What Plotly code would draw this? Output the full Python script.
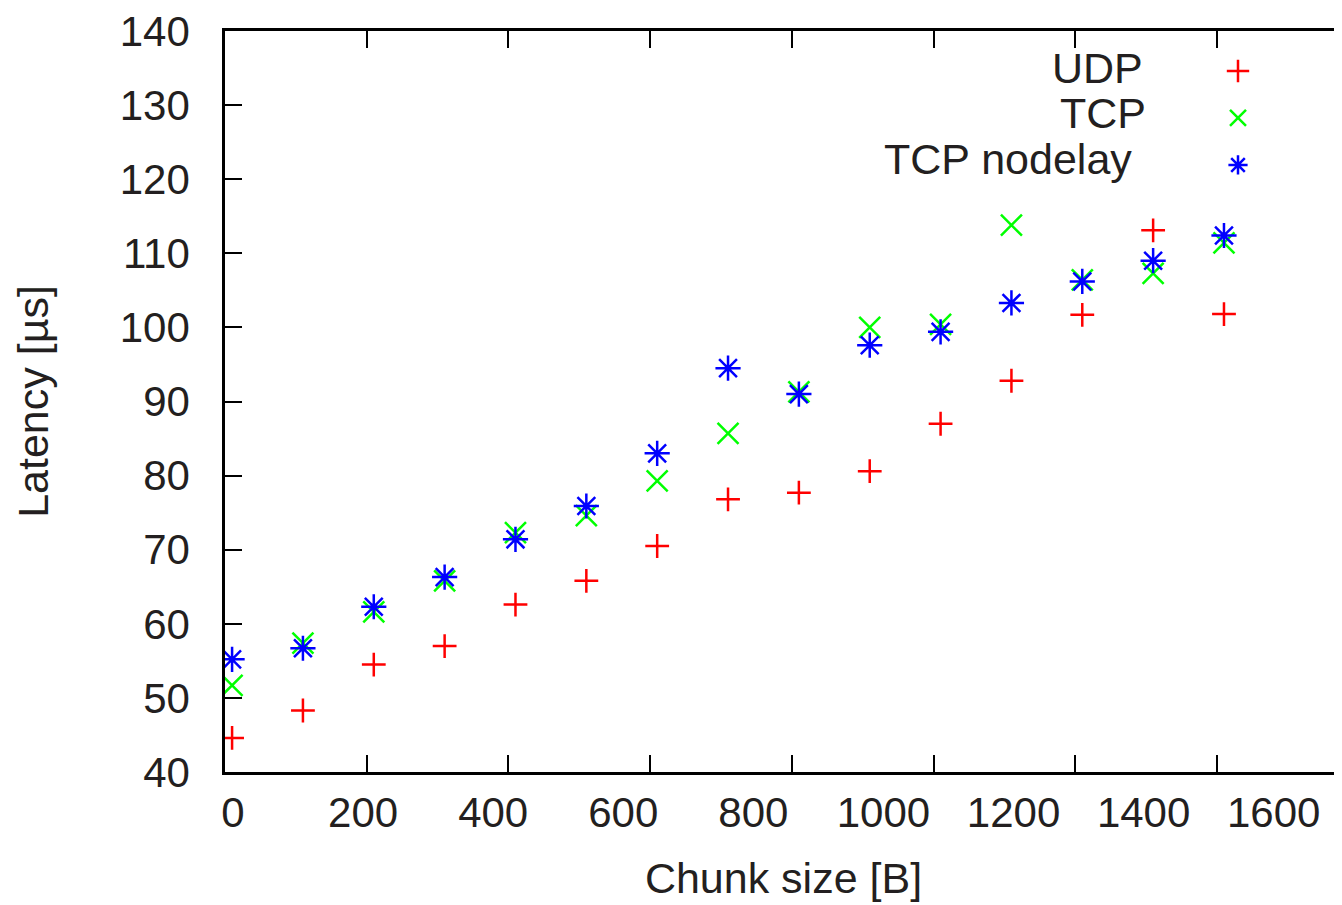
import plotly.graph_objects as go

# ---- data ----
chunk_size = [10, 110, 210, 310, 410, 510, 610, 710, 810, 910, 1010, 1110, 1210, 1310, 1410]
udp = [44.6, 48.3, 54.5, 57.0, 62.6, 65.8, 70.5, 76.8, 77.7, 80.6, 87.0, 92.8, 101.7, 113.1, 101.8]
tcp = [51.7, 57.4, 61.6, 65.8, 72.3, 74.6, 79.3, 85.7, 91.3, 100.0, 100.4, 113.8, 106.4, 107.3, 111.4]
tcp_nodelay = [55.2, 56.7, 62.3, 66.3, 71.4, 75.9, 83.0, 94.5, 91.0, 97.6, 99.4, 103.3, 106.2, 109.0, 112.4]

series_names = ["UDP", "TCP", "TCP nodelay"]
x_tick_values = [0, 200, 400, 600, 800, 1000, 1200, 1400, 1600]
y_tick_values = [40, 50, 60, 70, 80, 90, 100, 110, 120, 130, 140]

# ---- layout constants (page has an 8px body margin) ----
OFF = 8
W, H = 1342 - OFF, 905 - OFF
ML, MR, MT = 225 - OFF, 0, 29 - OFF
PH = 743
MB = H - MT - PH
PW = W - ML - MR
FONT = "Liberation Sans, Arial, Helvetica, sans-serif"
TXT = "#231f20"

symbols = ["cross-thin", "x-thin", "asterisk"]
sizes = [17, 21, 21]
colors = ["#ff0000", "#00ff00", "#0000ff"]
values = [udp, tcp, tcp_nodelay]

fig = go.Figure()
for i, (name, vals) in enumerate(zip(series_names, values)):
    fig.add_trace(go.Scatter(
        x=chunk_size, y=vals, mode="markers", name="",
        legendgroup=name,
        marker=dict(symbol=symbols[i], size=sizes[i], color=colors[i],
                    line=dict(color=colors[i], width=2.5)),
        hovertemplate=name + ": %{x} B, %{y} µs<extra></extra>",
    ))

# empty trace so that the label axis (x2) is drawn
fig.add_trace(go.Scatter(x=[], y=[], xaxis="x2", yaxis="y", showlegend=False,
                         hoverinfo="skip"))

# x-axis: ticks scale (0 at the frame, 200 per 141.7 px)
x_px_per_unit = 141.7 / 200.0
x_max = PW / x_px_per_unit
# label positions as they appear in the reference (0 at 233 px, 1600 at 1273.7 px)
lab0_px, lab_px_per_unit = 233.0 - 225.0, (1273.7 - 233.0) / 1600.0
lab_min = -lab0_px / lab_px_per_unit
lab_max = (PW - lab0_px) / lab_px_per_unit

# legend text annotations (legend keys come from the plotly legend)
legend_text_right_px = [1140, 1143, 1129]
legend_text_center_px = [66, 111, 157]
annotations = []
for name, xr, yc in zip(series_names, legend_text_right_px, legend_text_center_px):
    annotations.append(dict(
        text=name, xref="paper", yref="paper",
        x=(xr + 5 - 225) / PW, y=1 - (yc - 29) / PH,
        xanchor="right", yanchor="middle", showarrow=False,
        font=dict(family=FONT, size=43, color=TXT),
    ))

fig.update_layout(
    width=W, height=H,
    margin=dict(l=ML, r=MR, t=MT, b=MB, pad=0),
    paper_bgcolor="white", plot_bgcolor="white",
    font=dict(family=FONT, size=42, color=TXT),
    showlegend=True,
    legend=dict(
        x=(1218 - 225) / PW, y=1.0 - 14.0 / PH, xanchor="left", yanchor="top",
        bgcolor="rgba(0,0,0,0)", borderwidth=0,
        font=dict(family=FONT, size=30, color=TXT),
        tracegroupgap=5, itemwidth=30,
    ),
    annotations=annotations,
    xaxis=dict(
        range=[0, x_max], tickvals=x_tick_values, showticklabels=False,
        ticks="inside", ticklen=17, tickwidth=2, tickcolor="black",
        showline=True, linecolor="black", linewidth=2.5, mirror="ticks",
        showgrid=False, zeroline=False,
        title=dict(text="Chunk size [B]", font=dict(family=FONT, size=43, color=TXT),
                   standoff=90),
    ),
    xaxis2=dict(
        overlaying="x", anchor="y", side="bottom",
        range=[lab_min, lab_max], tickvals=x_tick_values,
        ticks="", showline=False, showgrid=False, zeroline=False,
        ticklabelstandoff=12, ticklabeloverflow="allow",
        tickfont=dict(family=FONT, size=42, color=TXT),
    ),
    yaxis=dict(
        range=[40, 140.0001], tickvals=y_tick_values,
        ticks="inside", ticklen=17, tickwidth=2, tickcolor="black",
        showline=True, linecolor="black", linewidth=2.5, mirror=False,
        showgrid=False, zeroline=False, ticklabelstandoff=24,
        ticklabeloverflow="allow",
        tickfont=dict(family=FONT, size=42, color=TXT),
        title=dict(text="Latency [µs]", font=dict(family=FONT, size=43, color=TXT),
                   standoff=58),
    ),
)

fig.write_html("out.html")
